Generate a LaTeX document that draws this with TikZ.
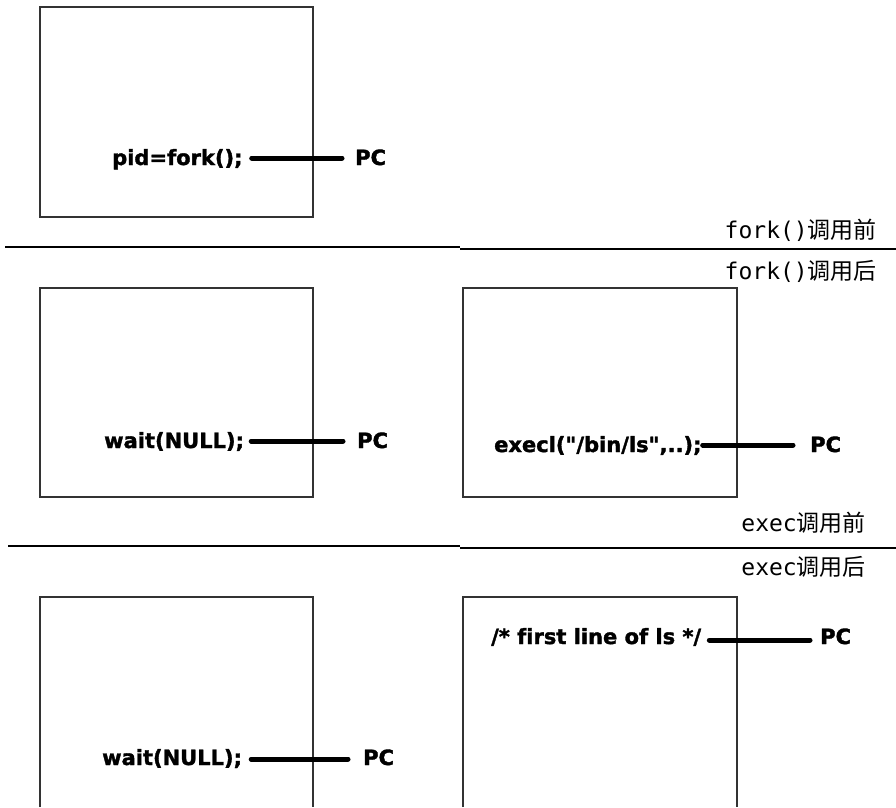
\documentclass[tikz,border=0pt]{standalone}
\usepackage{fontspec}
\setmainfont{DejaVu Sans}
\newfontfamily\codefont{DejaVu Sans Bold}[FakeBold=1.6,Ligatures=NoCommon]
\newfontfamily\cjkfont{Noto Sans CJK SC}
\newfontfamily\monofont{DejaVu Sans Mono}
\begin{document}
\begin{tikzpicture}[x=1pt,y=-1pt,
  boxline/.style={draw=black!80,line width=1.3pt},
  sepline/.style={draw=black,line width=1.3pt},
  code/.style={inner sep=0pt,anchor=base west,font=\fontsize{21}{24}\codefont},
  pctext/.style={inner sep=0pt,anchor=base west,font=\fontsize{21}{24}\codefont},
  pcline/.style={draw=black,line width=5pt,line cap=round},
  phase/.style={inner sep=0pt,anchor=base east,font=\fontsize{23}{26}\selectfont}]
\useasboundingbox[fill=white] (0,0) rectangle (896,807);
% boxes
\draw[boxline] (40,7) rectangle (313,217);
\draw[boxline] (40,288) rectangle (313,497);
\draw[boxline] (463,288) rectangle (737,497);
\draw[boxline] (40,807) -- (40,597) -- (313,597) -- (313,807);
\draw[boxline] (463,807) -- (463,597) -- (737,597) -- (737,807);
% separators
\draw[sepline] (5,247) -- (460,247);
\draw[sepline] (460,249) -- (896,249);
\draw[sepline] (8,546) -- (460,546);
\draw[sepline] (460,548) -- (896,548);
% phase labels
\node[phase] (l1) at (877,238) {\monofont fork()\cjkfont 调用前};
\node[phase] (l2) at (877,279) {\monofont fork()\cjkfont 调用后};
\node[phase] (l3) at (866,531) {\monofont exec\cjkfont 调用前};
\node[phase] (l4) at (866,575) {\monofont exec\cjkfont 调用后};
% row 1
\node[code] (c1) at (112,165) {pid=fork();};
\node[pctext] (p1) at (355,165) {PC};
\draw[pcline,shorten <=9pt,shorten >=13pt] (c1.east|-0,158) -- (p1.west|-0,158);
% row 2 left
\node[code] (c2) at (104,448) {wait(NULL);};
\node[pctext] (p2) at (357,448) {PC};
\draw[pcline,shorten <=7pt,shorten >=14pt] (c2.east|-0,441) -- (p2.west|-0,441);
% row 2 right
\node[code] (c3) at (494,452) {execl(\char"22/bin/ls\char"22,..);};
\node[pctext] (p3) at (810,452) {PC};
\draw[pcline,shorten <=1pt,shorten >=17pt] (c3.east|-0,445) -- (p3.west|-0,445);
% row 3 right
\node[code] (c4) at (491,644) {/* first line of ls */};
\node[pctext] (p4) at (820,644) {PC};
\draw[pcline,shorten <=8pt,shorten >=10pt] (c4.east|-0,640) -- (p4.west|-0,640);
% row 3 left
\node[code] (c5) at (102,765) {wait(NULL);};
\node[pctext] (p5) at (363,765) {PC};
\draw[pcline,shorten <=9pt,shorten >=15pt] (c5.east|-0,759) -- (p5.west|-0,759);
\end{tikzpicture}
\end{document}
